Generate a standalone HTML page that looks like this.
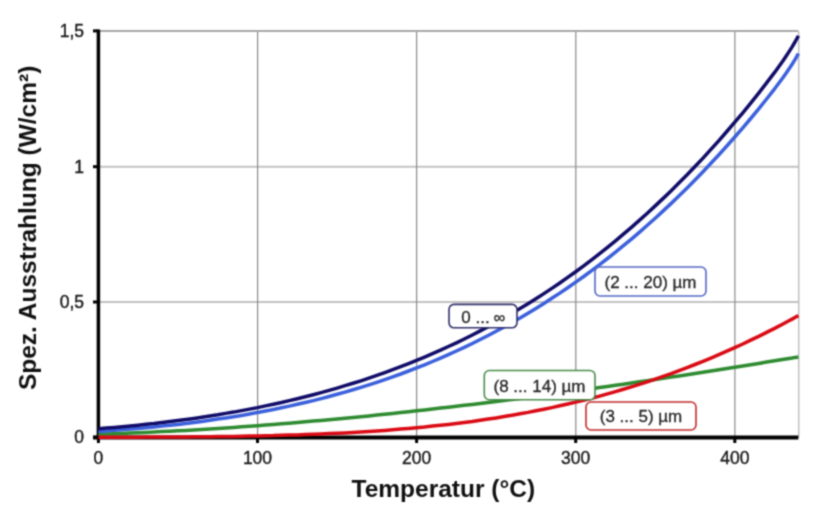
<!DOCTYPE html>
<html><head><meta charset="utf-8"><style>
html,body{margin:0;padding:0;background:#fff;width:835px;height:524px;overflow:hidden}
svg{display:block;font-family:"Liberation Sans",sans-serif}
</style></head><body>
<svg width="835" height="524" viewBox="0 0 835 524">
<defs><filter id="bl" x="0" y="0" width="835" height="524" filterUnits="userSpaceOnUse" color-interpolation-filters="sRGB"><feConvolveMatrix order="3" kernelMatrix="0.04387 0.12171 0.04387 0.12171 0.33767 0.12171 0.04387 0.12171 0.04387" edgeMode="duplicate" preserveAlpha="true"/></filter></defs>
<g id="c">
<rect width="835" height="524" fill="#fff"/>
<line x1="98.4" y1="302.0" x2="798.4" y2="302.0" stroke="#c2c2c2" stroke-width="2"/><line x1="98.4" y1="166.7" x2="798.4" y2="166.7" stroke="#c2c2c2" stroke-width="2"/><line x1="257.6" y1="31.4" x2="257.6" y2="437.3" stroke="#8a8a8a" stroke-width="1.2"/><line x1="416.6" y1="31.4" x2="416.6" y2="437.3" stroke="#8a8a8a" stroke-width="1.2"/><line x1="575.8" y1="31.4" x2="575.8" y2="437.3" stroke="#8a8a8a" stroke-width="1.2"/><line x1="734.9" y1="31.4" x2="734.9" y2="437.3" stroke="#8a8a8a" stroke-width="1.2"/><line x1="98.4" y1="31.0" x2="798.4" y2="31.0" stroke="#a8a8a8" stroke-width="2"/><line x1="798.8" y1="31.4" x2="798.8" y2="437.3" stroke="#a0a0a0" stroke-width="1"/>
<line x1="98.4" y1="29.4" x2="98.4" y2="437.3" stroke="#000" stroke-width="3.5"/>
<line x1="93" y1="437.5" x2="798.4" y2="437.5" stroke="#000" stroke-width="3.8"/>
<line x1="93" y1="437.3" x2="98.4" y2="437.3" stroke="#000" stroke-width="3"/><line x1="93" y1="302.0" x2="98.4" y2="302.0" stroke="#000" stroke-width="3"/><line x1="93" y1="166.7" x2="98.4" y2="166.7" stroke="#000" stroke-width="3"/><line x1="93" y1="30.9" x2="98.4" y2="30.9" stroke="#000" stroke-width="3"/><line x1="98.4" y1="437.3" x2="98.4" y2="443" stroke="#000" stroke-width="3"/><line x1="257.5" y1="437.3" x2="257.5" y2="443" stroke="#000" stroke-width="3"/><line x1="416.6" y1="437.3" x2="416.6" y2="443" stroke="#000" stroke-width="3"/><line x1="575.7" y1="437.3" x2="575.7" y2="443" stroke="#000" stroke-width="3"/><line x1="734.8" y1="437.3" x2="734.8" y2="443" stroke="#000" stroke-width="3"/>
<g fill="none" stroke-linejoin="round" stroke-linecap="butt" stroke-width="3.5">
<path d="M98.4,434.3 L106.4,434.0 L114.3,433.7 L122.3,433.4 L130.2,433.1 L138.2,432.8 L146.1,432.4 L154.1,432.0 L162.0,431.6 L170.0,431.2 L177.9,430.8 L185.9,430.4 L193.9,429.9 L201.8,429.4 L209.8,428.9 L217.7,428.4 L225.7,427.9 L233.6,427.4 L241.6,426.8 L249.5,426.3 L257.5,425.7 L265.5,425.1 L273.4,424.5 L281.4,423.8 L289.3,423.2 L297.3,422.5 L305.2,421.8 L313.2,421.1 L321.1,420.4 L329.1,419.7 L337.1,419.0 L345.0,418.2 L353.0,417.4 L360.9,416.7 L368.9,415.9 L376.8,415.1 L384.8,414.2 L392.7,413.4 L400.7,412.6 L408.6,411.7 L416.6,410.8 L424.6,409.9 L432.5,409.0 L440.5,408.1 L448.4,407.2 L456.4,406.3 L464.3,405.3 L472.3,404.4 L480.2,403.4 L488.2,402.4 L496.1,401.4 L504.1,400.4 L512.1,399.4 L520.0,398.4 L528.0,397.3 L535.9,396.3 L543.9,395.2 L551.8,394.2 L559.8,393.1 L567.7,392.0 L575.7,390.9 L583.7,389.8 L591.6,388.7 L599.6,387.6 L607.5,386.4 L615.5,385.3 L623.4,384.2 L631.4,383.0 L639.3,381.8 L647.3,380.7 L655.2,379.5 L663.2,378.3 L671.2,377.1 L679.1,375.9 L687.1,374.7 L695.0,373.4 L703.0,372.2 L710.9,371.0 L718.9,369.7 L726.8,368.5 L734.8,367.2 L742.8,365.9 L750.7,364.7 L758.7,363.4 L766.6,362.1 L774.6,360.8 L782.5,359.5 L785.7,359.0 L788.9,358.5 L792.1,358.0 L795.3,357.4 L798.4,356.9" stroke="#2e8b30"/>
<path d="M98.4,431.4 L106.4,430.9 L114.3,430.3 L122.3,429.7 L130.2,429.1 L138.2,428.4 L146.1,427.7 L154.1,426.9 L162.0,426.1 L170.0,425.3 L177.9,424.4 L185.9,423.4 L193.9,422.4 L201.8,421.4 L209.8,420.3 L217.7,419.1 L225.7,417.9 L233.6,416.7 L241.6,415.4 L249.5,414.0 L257.5,412.5 L265.5,411.0 L273.4,409.5 L281.4,407.8 L289.3,406.1 L297.3,404.3 L305.2,402.5 L313.2,400.6 L321.1,398.6 L329.1,396.5 L337.1,394.3 L345.0,392.1 L353.0,389.8 L360.9,387.4 L368.9,384.9 L376.8,382.3 L384.8,379.6 L392.7,376.8 L400.7,374.0 L408.6,371.0 L416.6,367.9 L424.6,364.8 L432.5,361.5 L440.5,358.1 L448.4,354.6 L456.4,351.0 L464.3,347.3 L472.3,343.5 L480.2,339.5 L488.2,335.5 L496.1,331.3 L504.1,327.0 L512.1,322.5 L520.0,318.0 L528.0,313.2 L535.9,308.4 L543.9,303.4 L551.8,298.3 L559.8,293.1 L567.7,287.7 L575.7,282.1 L583.7,276.5 L591.6,270.6 L599.6,264.6 L607.5,258.5 L615.5,252.2 L623.4,245.7 L631.4,239.1 L639.3,232.3 L647.3,225.3 L655.2,218.2 L663.2,210.9 L671.2,203.4 L679.1,195.7 L687.1,187.9 L695.0,179.9 L703.0,171.7 L710.9,163.3 L718.9,154.7 L726.8,146.0 L734.8,137.0 L742.8,127.8 L750.7,118.5 L758.7,108.9 L766.6,99.0 L774.6,88.8 L782.5,78.2 L785.7,73.7 L788.9,69.1 L792.1,64.2 L795.3,59.1 L798.4,53.5" stroke="#3b60dc"/>
<path d="M98.4,428.8 L106.4,428.1 L114.3,427.4 L122.3,426.7 L130.2,426.0 L138.2,425.2 L146.1,424.3 L154.1,423.5 L162.0,422.5 L170.0,421.6 L177.9,420.6 L185.9,419.5 L193.9,418.4 L201.8,417.2 L209.8,416.0 L217.7,414.8 L225.7,413.4 L233.6,412.1 L241.6,410.6 L249.5,409.1 L257.5,407.6 L265.5,405.9 L273.4,404.2 L281.4,402.5 L289.3,400.6 L297.3,398.7 L305.2,396.8 L313.2,394.7 L321.1,392.6 L329.1,390.4 L337.1,388.1 L345.0,385.7 L353.0,383.3 L360.9,380.8 L368.9,378.1 L376.8,375.4 L384.8,372.6 L392.7,369.7 L400.7,366.7 L408.6,363.6 L416.6,360.4 L424.6,357.1 L432.5,353.7 L440.5,350.2 L448.4,346.5 L456.4,342.8 L464.3,339.0 L472.3,335.0 L480.2,330.9 L488.2,326.7 L496.1,322.4 L504.1,317.9 L512.1,313.3 L520.0,308.6 L528.0,303.8 L535.9,298.8 L543.9,293.6 L551.8,288.4 L559.8,283.0 L567.7,277.4 L575.7,271.7 L583.7,265.9 L591.6,259.9 L599.6,253.7 L607.5,247.4 L615.5,240.9 L623.4,234.2 L631.4,227.4 L639.3,220.4 L647.3,213.3 L655.2,205.9 L663.2,198.4 L671.2,190.7 L679.1,182.8 L687.1,174.8 L695.0,166.5 L703.0,158.1 L710.9,149.4 L718.9,140.6 L726.8,131.5 L734.8,122.2 L742.8,112.8 L750.7,103.1 L758.7,93.1 L766.6,82.9 L774.6,72.4 L782.5,61.4 L785.7,56.7 L788.9,51.9 L792.1,46.9 L795.3,41.5 L798.4,35.7" stroke="#100c68"/>
<path d="M98.4,437.2 L106.4,437.2 L114.3,437.2 L122.3,437.2 L130.2,437.2 L138.2,437.2 L146.1,437.1 L154.1,437.1 L162.0,437.0 L170.0,437.0 L177.9,437.0 L185.9,436.9 L193.9,436.8 L201.8,436.8 L209.8,436.7 L217.7,436.6 L225.7,436.5 L233.6,436.4 L241.6,436.2 L249.5,436.1 L257.5,435.9 L265.5,435.7 L273.4,435.6 L281.4,435.3 L289.3,435.1 L297.3,434.9 L305.2,434.6 L313.2,434.3 L321.1,434.0 L329.1,433.6 L337.1,433.3 L345.0,432.9 L353.0,432.4 L360.9,432.0 L368.9,431.5 L376.8,430.9 L384.8,430.4 L392.7,429.8 L400.7,429.1 L408.6,428.4 L416.6,427.7 L424.6,427.0 L432.5,426.1 L440.5,425.3 L448.4,424.4 L456.4,423.4 L464.3,422.4 L472.3,421.4 L480.2,420.2 L488.2,419.1 L496.1,417.9 L504.1,416.6 L512.1,415.2 L520.0,413.8 L528.0,412.4 L535.9,410.8 L543.9,409.2 L551.8,407.6 L559.8,405.8 L567.7,404.0 L575.7,402.1 L583.7,400.2 L591.6,398.2 L599.6,396.1 L607.5,393.9 L615.5,391.6 L623.4,389.3 L631.4,386.9 L639.3,384.4 L647.3,381.8 L655.2,379.2 L663.2,376.4 L671.2,373.6 L679.1,370.6 L687.1,367.6 L695.0,364.5 L703.0,361.3 L710.9,358.1 L718.9,354.7 L726.8,351.2 L734.8,347.6 L742.8,344.0 L750.7,340.2 L758.7,336.4 L766.6,332.4 L774.6,328.4 L782.5,324.2 L785.7,322.5 L788.9,320.8 L792.1,319.1 L795.3,317.3 L798.4,315.6" stroke="#da0a14"/>
</g>
<g font-size="17.5" fill="#1a1a1a" stroke="#1a1a1a" stroke-width="0.4">
<text x="84" y="443.3" text-anchor="end">0</text><text x="84" y="308.0" text-anchor="end">0,5</text><text x="84" y="172.7" text-anchor="end">1</text><text x="84" y="37.4" text-anchor="end">1,5</text>
<text x="98.4" y="464" text-anchor="middle">0</text><text x="257.5" y="464" text-anchor="middle">100</text><text x="416.6" y="464" text-anchor="middle">200</text><text x="575.7" y="464" text-anchor="middle">300</text><text x="734.8" y="464" text-anchor="middle">400</text>
</g>
<text x="443.3" y="496.5" text-anchor="middle" font-size="24.5" font-weight="bold" fill="#111">Temperatur (°C)</text>
<text transform="translate(36,227.9) rotate(-90)" text-anchor="middle" font-size="24.5" font-weight="bold" fill="#111">Spez. Ausstrahlung (W/cm²)</text>
<rect x="449" y="304.4" width="68" height="23.400000000000034" rx="5" ry="5" fill="#fff" stroke="#30306a" stroke-width="1.6"/><text x="483.3" y="322.6" text-anchor="middle" font-size="17" fill="#262626" stroke="#262626" stroke-width="0.3">0 ... <tspan font-size="16.5" dy="0.8" dx="-0.8">∞</tspan></text>
<rect x="595" y="267" width="111" height="29" rx="5" ry="5" fill="#fff" stroke="#5468c4" stroke-width="1.6"/><text x="650.5" y="288" text-anchor="middle" font-size="17" fill="#262626" stroke="#262626" stroke-width="0.3">(2 ... 20) µm</text>
<rect x="484.3" y="370.5" width="110.69999999999999" height="29.19999999999999" rx="5" ry="5" fill="#fff" stroke="#4a8c4a" stroke-width="1.6"/><text x="539.5" y="391.8" text-anchor="middle" font-size="17" fill="#262626" stroke="#262626" stroke-width="0.3">(8 ... 14) µm</text>
<rect x="586" y="402" width="110" height="28" rx="5" ry="5" fill="#fff" stroke="#c42a2a" stroke-width="1.6"/><text x="641" y="422" text-anchor="middle" font-size="17" fill="#262626" stroke="#262626" stroke-width="0.3">(3 ... 5) µm</text>
</g>
<use href="#c" filter="url(#bl)"/>
</svg>
</body></html>
